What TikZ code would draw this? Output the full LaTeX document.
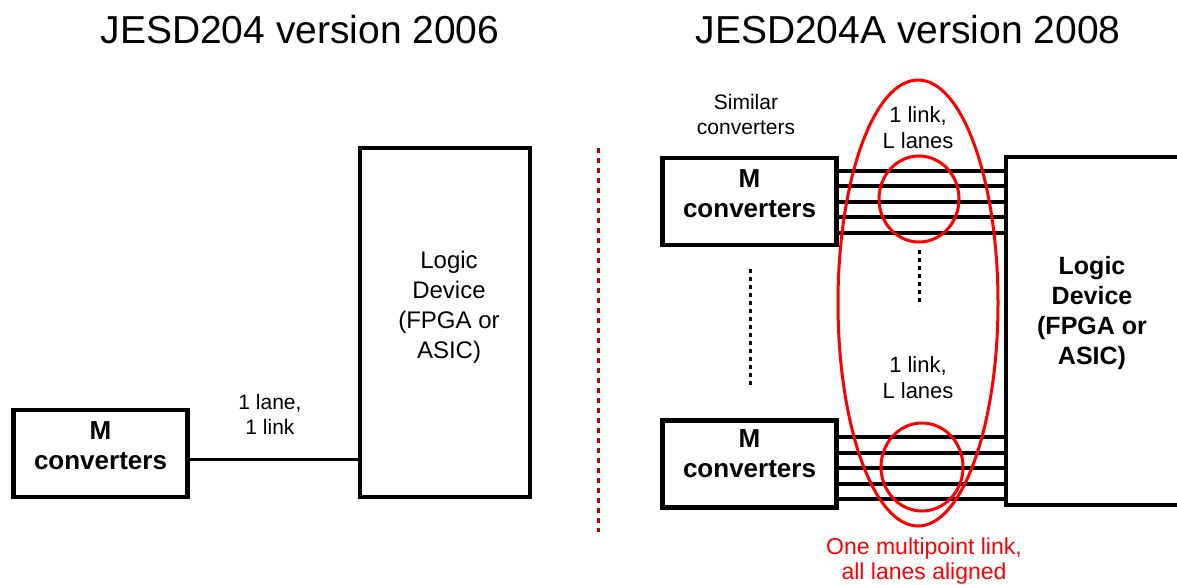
\documentclass[tikz,border=0pt]{standalone}
\usepackage{fontspec}
\setmainfont{Liberation Sans}
\usepackage{xcolor}
\usetikzlibrary{positioning,calc}
\definecolor{sepred}{RGB}{192,0,0}
\definecolor{linkred}{RGB}{255,0,0}
\tikzset{
titletext/.style={
font=\fontsize{39}{46}\selectfont,
inner sep=0pt
},
convbox/.style={
draw,
line width=4.5pt,
minimum width=174pt,
minimum height=87pt,
align=center,
inner sep=0pt,
text depth=16pt,
font=\fontsize{26}{30}\selectfont\bfseries
},
logicbox/.style={
minimum width=170pt,
minimum height=349pt,
inner sep=0pt
},
devtext/.style={
align=center,
inner sep=0pt,
font=\fontsize{24}{30}\selectfont
},
smalltext/.style={
align=center,
inner sep=0pt,
font=\fontsize{21}{25}\selectfont
},
linktext/.style={
align=center,
inner sep=0pt,
font=\fontsize{22}{26}\selectfont
},
redtext/.style={
align=center,
inner sep=0pt,
text=linkred,
font=\fontsize{23}{25}\selectfont
},
onelane/.style={
line width=3pt
},
lane/.style={
line width=4pt
},
ring/.style={
draw=linkred,
line width=3pt
},
vdots/.style={
line width=3pt,
dash pattern=on 4pt off 4pt
},
sepline/.style={
draw=sepred,
line width=3pt,
dash pattern=on 5pt off 5pt
}
}
\begin{document}
\begin{tikzpicture}[x=1pt,y=-1pt]
\clip (0,0) rectangle (1177,584);
% 2006
\node[titletext](t1) at (300,30){JESD204 version 2006};
\node[convbox](m0) at (100.5,453.5){M\\converters};
\node[logicbox,draw,line width=4.5pt,
label={[devtext,yshift=15pt,xshift=4pt]center:{Logic\\Device\\(FPGA or\\ASIC)}}](ld1) at (445,322.5){};
\draw[onelane]([yshift=-6pt]m0.east)--([yshift=-6pt]m0.east -| ld1.west);
\node[smalltext](lbl0) at (270,414){1 lane,\\1 link};

\draw[sepline](598,148)--(598,532);

% 2008
\node[titletext](t2) at (908,30){JESD204A version 2008};
\node[smalltext](sim) at (746,114){Similar\\converters};
\node[convbox](mt) at (749.5,201.5){M\\converters};
\node[convbox,text depth=20pt](mb) at (749.5,464){M\\converters};
\node[logicbox,minimum width=188pt,minimum height=348pt,
label={[devtext,font=\fontsize{25}{30}\selectfont\bfseries,yshift=18pt,xshift=-8pt]center:{Logic\\Device\\(FPGA or\\ASIC)}}](ld2) at (1100,331){};
\draw[line width=4.5pt](ld2.north east)--(ld2.north west)--(ld2.south west)--(ld2.south east);

\foreach \d in {-31,-15.5,0,15.5,31}{
\draw[lane]([yshift={\d*1pt}]mt.east)--([yshift={\d*1pt}]mt.east -| ld2.west);
\draw[lane]([yshift={(\d-4)*1pt}]mb.east)--([yshift={(\d-4)*1pt}]mb.east -| ld2.west);
}
\draw[vdots](750,269)--(750,387);
\draw[vdots](919,250)--(919,306);

\node[linktext](lt) at (918,128){1 link,\\L lanes};
\node[linktext](lb) at (918,378){1 link,\\L lanes};

\draw[ring](918,303) ellipse [x radius=80, y radius=223];
\draw[ring](919,199) ellipse [x radius=40, y radius=43];
\draw[ring](922,467) ellipse [x radius=41, y radius=44];

\node[redtext](note) at (924,561){One multipoint link,\\all lanes aligned};
\end{tikzpicture}
\end{document}
